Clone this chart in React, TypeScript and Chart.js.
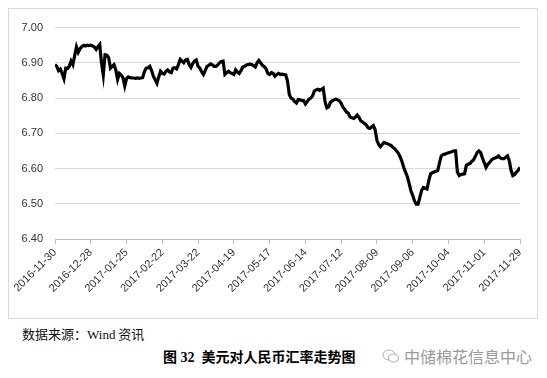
import React, { useEffect, useRef } from "react";
import { Chart, registerables } from "chart.js";

Chart.register(...registerables);

// x-axis tick labels (every 20 trading days)
const tickLabels = [
  "2016-11-30", "2016-12-28", "2017-01-25", "2017-02-22", "2017-03-22",
  "2017-04-19", "2017-05-17", "2017-06-14", "2017-07-12", "2017-08-09",
  "2017-09-06", "2017-10-04", "2017-11-01", "2017-11-29",
];
const tickStep = 20;

// USD/CNY daily values (trading days, 2016-11-30 .. 2017-11-29)
const usdCny = [
  6.895, 6.89, 6.878, 6.882, 6.87, 6.855, 6.885, 6.884, 6.89, 6.905,
  6.895, 6.92, 6.945, 6.93, 6.94, 6.946, 6.95, 6.948, 6.95, 6.949,
  6.95, 6.948, 6.945, 6.938, 6.946, 6.952, 6.9, 6.865, 6.923, 6.922,
  6.915, 6.885, 6.89, 6.895, 6.88, 6.853, 6.87, 6.865, 6.858, 6.834,
  6.855, 6.86, 6.858, 6.857, 6.857, 6.856, 6.857, 6.856, 6.857, 6.858,
  6.875, 6.885, 6.886, 6.89, 6.878, 6.862, 6.852, 6.842, 6.86, 6.876,
  6.87, 6.868, 6.876, 6.88, 6.874, 6.872, 6.885, 6.886, 6.883, 6.895,
  6.91, 6.905, 6.9, 6.908, 6.91, 6.895, 6.887, 6.898, 6.905, 6.908,
  6.89, 6.885, 6.875, 6.867, 6.878, 6.89, 6.893, 6.897, 6.894, 6.89,
  6.89, 6.894, 6.9, 6.904, 6.905, 6.867, 6.872, 6.876, 6.872, 6.87,
  6.867, 6.88, 6.874, 6.87, 6.878, 6.888, 6.89, 6.894, 6.895, 6.896,
  6.895, 6.892, 6.888, 6.9, 6.907, 6.9, 6.893, 6.889, 6.883, 6.87,
  6.867, 6.872, 6.87, 6.862, 6.867, 6.87, 6.867, 6.868, 6.867, 6.866,
  6.848, 6.81, 6.8, 6.797, 6.79, 6.786, 6.796, 6.795, 6.793, 6.793,
  6.783, 6.79, 6.797, 6.8, 6.806, 6.82, 6.823, 6.825, 6.822, 6.825,
  6.828, 6.79, 6.772, 6.775, 6.788, 6.792, 6.795, 6.797, 6.795, 6.792,
  6.785, 6.774, 6.768, 6.76, 6.757, 6.746, 6.744, 6.742, 6.746, 6.752,
  6.745, 6.735, 6.732, 6.728, 6.724, 6.716, 6.714, 6.718, 6.722, 6.71,
  6.68, 6.668, 6.662, 6.668, 6.674, 6.672, 6.67, 6.668, 6.665, 6.66,
  6.656, 6.65, 6.643, 6.633, 6.62, 6.603, 6.59, 6.577, 6.558, 6.537,
  6.524, 6.508, 6.499, 6.499, 6.518, 6.538, 6.546, 6.544, 6.542, 6.566,
  6.585, 6.588, 6.59, 6.592, 6.594, 6.617, 6.636, 6.64, 6.641, 6.643,
  6.645, 6.646, 6.648, 6.65, 6.65, 6.59, 6.58, 6.583, 6.584, 6.585,
  6.609, 6.612, 6.614, 6.62, 6.624, 6.634, 6.645, 6.65, 6.645, 6.63,
  6.617, 6.603, 6.612, 6.617, 6.624, 6.628, 6.63, 6.632, 6.636, 6.63,
  6.628, 6.628, 6.632, 6.636, 6.622, 6.595, 6.58, 6.583, 6.59, 6.595,
  6.603,
];

const yMin = 6.4;
const yMax = 7.0;
const yStep = 0.1;

const sourceText = "数据来源：";
const sourceName = "Wind";
const sourceSuffix = " 资讯";
const titleText = "图 32  美元对人民币汇率走势图";
const watermark = "中储棉花信息中心";

export default function App() {
  const ref = useRef<HTMLCanvasElement | null>(null);

  useEffect(() => {
    if (!ref.current) return;
    const chart = new Chart(ref.current, {
      type: "line",
      data: {
        datasets: [
          {
            data: usdCny.map((v, i) => ({ x: i, y: v })),
            borderColor: "#000000",
            borderWidth: 3.2,
            pointRadius: 0,
            tension: 0,
            fill: false,
          },
        ],
      },
      options: {
        animation: false,
        responsive: false,
        maintainAspectRatio: false,
        layout: { padding: { top: 17, right: 17, left: 0, bottom: 0 } },
        plugins: { legend: { display: false }, tooltip: { enabled: false } },
        scales: {
          x: {
            type: "linear",
            min: 0,
            max: usdCny.length - 1,
            afterFit: (s: any) => {
              s.height = 78;
            },
            afterBuildTicks: (s: any) => {
              s.ticks = tickLabels.map((_, i) => ({ value: i * tickStep }));
            },
            ticks: {
              autoSkip: false,
              maxRotation: 45,
              minRotation: 45,
              padding: 2,
              color: "#333333",
              font: { family: "'Liberation Sans', Arial, sans-serif", size: 11 },
              callback: (v: any) => tickLabels[Math.round(Number(v) / tickStep)] ?? "",
            },
            grid: {
              drawOnChartArea: false,
              drawTicks: true,
              tickLength: 5,
              color: "#bfbfbf",
            },
            border: { display: true, color: "#bfbfbf", width: 1 },
          },
          y: {
            min: yMin,
            max: yMax,
            afterFit: (s: any) => {
              s.width = 46;
            },
            ticks: {
              stepSize: yStep,
              padding: 12,
              color: "#333333",
              font: { family: "'Liberation Sans', Arial, sans-serif", size: 11 },
              callback: (v: any) => Number(v).toFixed(2),
            },
            grid: { color: "#d9d9d9", drawTicks: false, lineWidth: 1 },
            border: { display: false },
          },
        },
      },
    });
    return () => chart.destroy();
  }, []);

  return (
    <div style={{ position: "relative", width: 531, height: 362, fontFamily: "'Liberation Serif', serif" }}>
      <div
        style={{
          position: "absolute",
          left: 0,
          top: 0,
          width: 528,
          height: 309,
          border: "1px solid #d9d9d9",
        }}
      >
        <canvas ref={ref} width={528} height={308} style={{ display: "block", width: 528, height: 308 }} />
      </div>
      <div
        style={{
          position: "absolute",
          left: 14,
          top: 316,
          fontSize: 13,
          color: "#111",
          whiteSpace: "nowrap",
        }}
      >
        <span style={{ fontFamily: "'Noto Sans CJK SC', sans-serif" }}>{sourceText}</span>
        <span style={{ fontFamily: "'Liberation Serif', serif" }}>{sourceName}</span>
        <span style={{ fontFamily: "'Noto Sans CJK SC', sans-serif" }}>{sourceSuffix}</span>
      </div>
      <div
        style={{
          position: "absolute",
          left: 155,
          top: 338,
          fontSize: 14,
          fontWeight: "bold",
          color: "#000",
          whiteSpace: "pre",
          fontFamily: "'Liberation Serif', 'Noto Sans CJK SC', serif",
        }}
      >
        {titleText}
      </div>
      <div
        style={{
          position: "absolute",
          left: 374,
          top: 336,
          display: "flex",
          alignItems: "center",
          color: "#9a9a9a",
          fontSize: 16,
          fontFamily: "'Noto Sans CJK SC', sans-serif",
          whiteSpace: "nowrap",
        }}
      >
        <svg width="18" height="16" viewBox="0 0 18 16" style={{ marginRight: 4 }}>
          <ellipse cx="7" cy="7" rx="6" ry="5" fill="none" stroke="#aaa" strokeWidth="1" />
          <ellipse cx="11.5" cy="10" rx="5" ry="4" fill="#fff" stroke="#aaa" strokeWidth="1" />
        </svg>
        {watermark}
      </div>
    </div>
  );
}
